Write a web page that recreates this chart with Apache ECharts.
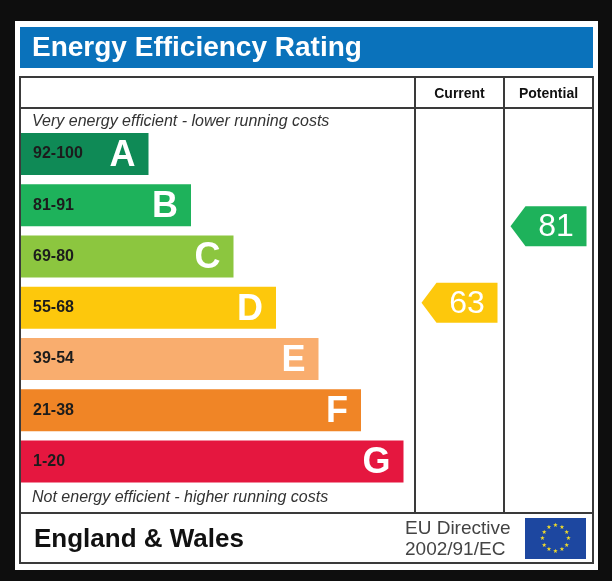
<!DOCTYPE html>
<html lang="en">
<head>
    <meta charset="UTF-8">
    <title>Energy Efficiency Rating</title>
    <script type="text/javascript" src="https://cdn.jsdelivr.net/npm/echarts/dist/echarts.min.js"></script>
    <style>
        html, body { margin: 0; padding: 0; background: #0e0e0e; }
        #epc { width: 612px; height: 581px; }
    </style>
</head>
<body>
    <div id="epc"></div>
    <script>
        // bands, top (most efficient) to bottom
        var bandLetters = ['A', 'B', 'C', 'D', 'E', 'F', 'G'];
        var bandRanges = ['92-100', '81-91', '69-80', '55-68', '39-54', '21-38', '1-20'];
        var bandMin = [92, 81, 69, 55, 39, 21, 1];
        var bandMax = [100, 91, 80, 68, 54, 38, 20];
        var barLength = [3, 4, 5, 6, 7, 8, 9];
        // ratings
        var ratingColumns = ['Current', 'Potential'];
        var ratingScores = [63, 81];

        var bandColors = ['#0f8a56', '#1eb25b', '#8cc63f', '#fdc80c', '#f9ad6e', '#f08526', '#e5173f'];
        var font = 'Liberation Sans, Arial, sans-serif';
        var halfBar = 0.41; // half bar height, in band units

        // score -> position on the band axis (inside its band)
        function bandIndex(score) {
            for (var i = 0; i < bandMin.length; i++) {
                if (score >= bandMin[i] && score <= bandMax[i]) return i;
            }
            return bandMin.length - 1;
        }
        function bandPos(score) {
            var i = bandIndex(score);
            var frac = (bandMax[i] - score) / (bandMax[i] - bandMin[i]);
            return i - halfBar + frac * 2 * halfBar;
        }

        var arrowData = [];
        for (var k = 0; k < ratingScores.length; k++) {
            arrowData.push([k, bandPos(ratingScores[k]), ratingScores[k], bandIndex(ratingScores[k])]);
        }

        var barData = [];
        for (var j = 0; j < barLength.length; j++) {
            barData.push({ value: barLength[j], itemStyle: { color: bandColors[j] } });
        }

        // EU flag stars
        var stars = [];
        for (var s = 0; s < 12; s++) {
            var a = s / 12 * Math.PI * 2;
            stars.push({
                type: 'text',
                style: {
                    x: 555.5 + 13 * Math.sin(a), y: 538.5 - 13 * Math.cos(a),
                    text: '\u2605', fill: '#f2dc2a', font: '6px DejaVu Sans',
                    align: 'center', verticalAlign: 'middle'
                }
            });
        }

        var chart = echarts.init(document.getElementById('epc'));
        var option = {
            animation: false,
            backgroundColor: '#0e0e0e',
            graphic: [
                { type: 'rect', shape: { x: 15, y: 21, width: 583, height: 549 }, style: { fill: '#ffffff' } },
                { type: 'rect', shape: { x: 20, y: 27, width: 573, height: 41 }, style: { fill: '#0a72bb' } },
                { type: 'text', style: { x: 32, y: 48, text: 'Energy Efficiency Rating', fill: '#ffffff',
                    font: 'bold 28px ' + font, verticalAlign: 'middle' } },
                { type: 'rect', shape: { x: 20, y: 77, width: 573, height: 486 },
                    style: { fill: null, stroke: '#3a3a3a', lineWidth: 2 } },
                { type: 'line', shape: { x1: 20, y1: 108, x2: 593, y2: 108 }, style: { stroke: '#3a3a3a', lineWidth: 2 } },
                { type: 'line', shape: { x1: 20, y1: 513, x2: 593, y2: 513 }, style: { stroke: '#3a3a3a', lineWidth: 2 } },
                { type: 'line', shape: { x1: 415, y1: 77, x2: 415, y2: 513 }, style: { stroke: '#3a3a3a', lineWidth: 2 } },
                { type: 'line', shape: { x1: 504, y1: 77, x2: 504, y2: 513 }, style: { stroke: '#3a3a3a', lineWidth: 2 } },
                { type: 'text', style: { x: 32, y: 122, text: 'Very energy efficient - lower running costs', fill: '#333',
                    font: 'italic 16px ' + font, verticalAlign: 'middle' } },
                { type: 'text', style: { x: 32, y: 498, text: 'Not energy efficient - higher running costs', fill: '#333',
                    font: 'italic 16px ' + font, verticalAlign: 'middle' } },
                { type: 'text', style: { x: 34, y: 540, text: 'England & Wales', fill: '#111',
                    font: 'bold 26px ' + font, verticalAlign: 'middle' } },
                { type: 'text', style: { x: 405, y: 529, text: 'EU Directive', fill: '#444',
                    font: '19px ' + font, verticalAlign: 'middle' } },
                { type: 'text', style: { x: 405, y: 550, text: '2002/91/EC', fill: '#444',
                    font: '19px ' + font, verticalAlign: 'middle' } },
                { type: 'rect', shape: { x: 525, y: 518, width: 61, height: 41 }, style: { fill: '#1d47a0' } }
            ].concat(stars),
            grid: [
                { left: 21, top: 128.4, width: 425, height: 358.6 },
                { left: 415, top: 128.4, width: 178, height: 358.6 }
            ],
            xAxis: [
                { gridIndex: 0, type: 'value', min: 0, max: 10, show: false },
                {
                    gridIndex: 1, type: 'category', data: ratingColumns, position: 'top',
                    axisLine: { show: false }, axisTick: { show: false },
                    axisLabel: { margin: 27, color: '#111', fontFamily: font, fontWeight: 'bold', fontSize: 14 }
                }
            ],
            yAxis: [
                { gridIndex: 0, type: 'category', data: bandLetters, inverse: true, show: false },
                { gridIndex: 1, type: 'value', min: -0.5, max: 6.5, inverse: true, show: false }
            ],
            series: [
                {
                    type: 'bar', xAxisIndex: 0, yAxisIndex: 0, barWidth: 42,
                    data: barData,
                    label: {
                        show: true, position: 'insideLeft', distance: 12,
                        formatter: function (p) { return bandRanges[p.dataIndex]; },
                        color: '#1c1c1c', fontFamily: font, fontWeight: 'bold', fontSize: 16
                    }
                },
                {
                    type: 'bar', xAxisIndex: 0, yAxisIndex: 0, barWidth: 42, barGap: '-100%',
                    data: barLength, itemStyle: { color: 'rgba(0,0,0,0)' },
                    label: {
                        show: true, position: 'insideRight', distance: 13, offset: [0, 2],
                        formatter: function (p) { return bandLetters[p.dataIndex]; },
                        color: '#ffffff', fontFamily: font, fontWeight: 'bold', fontSize: 36
                    }
                },
                {
                    type: 'custom', xAxisIndex: 1, yAxisIndex: 1,
                    data: arrowData,
                    renderItem: function (params, api) {
                        var p = api.coord([api.value(0), api.value(1)]);
                        var bw = api.size([1, 0])[0];
                        var w = bw - 13, h = 40, tip = 15;
                        var x0 = p[0] - w / 2, y = p[1];
                        var color = bandColors[api.value(3)];
                        return {
                            type: 'group',
                            children: [
                                {
                                    type: 'polygon',
                                    shape: { points: [[x0, y], [x0 + tip, y - h / 2], [x0 + w, y - h / 2],
                                        [x0 + w, y + h / 2], [x0 + tip, y + h / 2]] },
                                    style: { fill: color }
                                },
                                {
                                    type: 'text',
                                    style: { x: x0 + tip + (w - tip) / 2, y: y + 1, text: String(api.value(2)),
                                        fill: '#ffffff', font: '32px ' + font, align: 'center', verticalAlign: 'middle' }
                                }
                            ]
                        };
                    }
                }
            ]
        };
        chart.setOption(option);
    </script>
</body>
</html>
